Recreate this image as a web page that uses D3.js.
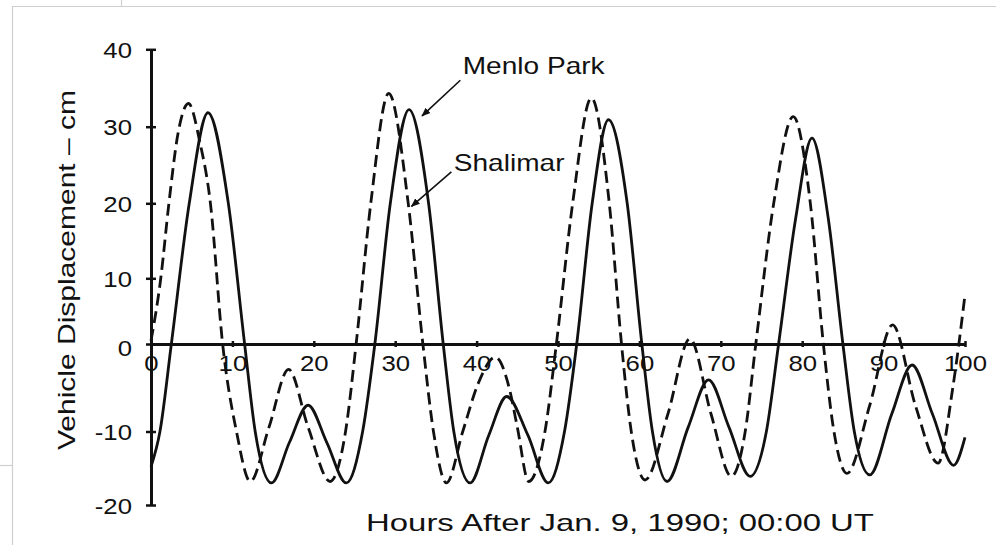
<!DOCTYPE html>
<html><head><meta charset="utf-8">
<script src="https://cdn.jsdelivr.net/npm/d3@7/dist/d3.min.js"></script>
<style>
body{margin:0;background:#fff}
text{font-family:"Liberation Sans",Arial,Helvetica,sans-serif;fill:#111}
</style>
</head><body>
<svg id="chart" width="996" height="545"></svg>
<script>
// ---- data ----
const xTicks = [0, 10, 20, 30, 40, 50, 60, 70, 80, 90, 100];
const yTicks = [-20, -10, 0, 10, 20, 30, 40];
const xTitle = "Hours After Jan. 9, 1990; 00:00 UT";
const yTitle = "Vehicle Displacement  \u2013  cm";

// Menlo Park (solid) : [hour, displacement cm]
const menloPark = [
  [0,-14.8],[1.1,-10],[2.5,0],[4.7,20],[7.0,31.8],[9.5,20],[11.5,0],[12.8,-10],[14.8,-17.0],
  [17.0,-11.5],[19.3,-7.0],[21.6,-11.5],[24.0,-17.0],[26.0,-10],[27.5,0],[29.4,20],[31.7,32.2],
  [34.1,20],[35.9,0],[37.2,-10],[39.2,-17.0],[41.5,-10.5],[43.7,-6.0],[46.3,-10.5],[48.8,-17.0],
  [50.8,-10],[52.3,0],[54.2,20],[56.2,30.9],[58.5,20],[60.3,0],[61.6,-10],[63.4,-16.8],
  [66.0,-9.5],[68.5,-4.1],[71.0,-9.5],[73.6,-16.1],[75.6,-10],[77.1,0],[79.2,18],[81.2,28.5],
  [83.2,18],[85.0,0],[86.4,-10],[88.3,-15.9],[91.0,-8],[93.5,-2.4],[96.0,-8],[98.6,-14.6],[100,-10.8]
];
// Shalimar (dashed)
const shalimar = [
  [0,0.5],[1.2,10],[2.2,20],[3.3,29],[4.6,33.0],[6.0,28],[7.3,20],[8.8,0],[10.5,-10],[12.2,-16.8],
  [14.5,-9.5],[16.9,-2.9],[19.3,-9.5],[22.0,-16.8],[23.9,-10],[25.2,0],[27.0,20],[29.2,34.3],
  [31.6,20],[33.4,0],[34.7,-10],[36.3,-17.0],[38.3,-10],[40.2,-4.5],[42.3,-1.5],[44.0,-5],
  [45.0,-9.5],[46.4,-16.8],[48.4,-10],[49.8,0],[51.8,20],[54.1,33.7],[56.3,20],[57.8,0],
  [59.0,-10],[60.7,-16.6],[63.5,-8],[66.2,0.8],[68.8,-8],[71.3,-16.1],[73.0,-10],[74.3,0],
  [76.5,20],[78.9,31.3],[81.0,20],[82.6,0],[83.9,-10],[85.5,-15.7],[88.3,-7],[91.1,2.9],
  [93.9,-7],[96.7,-14.3],[98.5,-5],[100,7.5]
];

// annotations: label, label position [hour, cm], arrow start, arrow tip
const annoLabels = ["Menlo Park", "Shalimar"];
const annoTextPos = [[38.3, 36.8], [37.2, 24.2]];
const annoFrom = [[38.0, 36.0], [36.9, 24.1]];
const annoTip = [[33.3, 31.4], [32.0, 19.6]];

// ---- chart ----
const svg = d3.select("#chart");
svg.append("rect").attr("width", 996).attr("height", 545).attr("fill", "#fff");

// scan frame remnants
const frame = svg.append("g").attr("stroke", "#cfcfcf").attr("stroke-width", 1.2).attr("fill", "none");
frame.append("line").attr("x1", 12).attr("x2", 996).attr("y1", 6.5).attr("y2", 6.5);
frame.append("line").attr("x1", 12.5).attr("x2", 12.5).attr("y1", 6).attr("y2", 545);
frame.append("line").attr("x1", 0).attr("x2", 12).attr("y1", 465.5).attr("y2", 465.5);
frame.append("line").attr("x1", 121.5).attr("x2", 121.5).attr("y1", 0).attr("y2", 6);

const x = d3.scaleLinear().domain([0, 100]).range([151, 965]);
const y = d3.scaleLinear()
  .domain([-20, -10, 0, 10, 20, 30, 40])
  .range([505, 431.5, 344, 278.3, 203.3, 126.7, 49.3]);

const tickFs = 23, tickStretch = 1.12;

// y axis
const gy = svg.append("g").attr("transform", `translate(${x(0)},0)`)
  .call(d3.axisLeft(y).tickValues(yTicks).tickSize(0).tickSizeOuter(0).tickPadding(19)
    .tickFormat(d => String(d)));
gy.select(".domain").attr("stroke", "#111").attr("stroke-width", 3);
gy.selectAll(".tick line").attr("x1", -5).attr("x2", 5).attr("stroke", "#111").attr("stroke-width", 2.5);
gy.selectAll(".tick text").attr("font-size", tickFs).attr("font-family", null).attr("fill", "#111")
  .attr("x", 0).attr("dy", d => d === 0 ? "0.52em" : "0.36em")
  .attr("transform", `translate(-19,0) scale(${tickStretch},1)`);

// x axis
const gx = svg.append("g").attr("transform", `translate(0,${y(0)})`)
  .call(d3.axisBottom(x).tickValues(xTicks).tickSize(0).tickSizeOuter(0).tickPadding(11));
gx.select(".domain").attr("stroke", "#111").attr("stroke-width", 3);
gx.selectAll(".tick line").attr("y1", -3).attr("y2", 3).attr("stroke", "#111").attr("stroke-width", 2.5);
gx.selectAll(".tick text").attr("font-size", tickFs).attr("font-family", null).attr("fill", "#111")
  .attr("transform", `scale(${tickStretch},1)`);

// curves
const line = d3.line().x(d => x(d[0])).y(d => y(d[1])).curve(d3.curveMonotoneX);
svg.append("path").datum(shalimar).attr("d", line)
  .attr("fill", "none").attr("stroke", "#111").attr("stroke-width", 2.8)
  .attr("stroke-dasharray", "12,6");
svg.append("path").datum(menloPark).attr("d", line)
  .attr("fill", "none").attr("stroke", "#111").attr("stroke-width", 2.8);

// arrows
svg.append("defs").append("marker").attr("id", "ah")
  .attr("viewBox", "0 0 10 10").attr("refX", 9).attr("refY", 5)
  .attr("markerWidth", 9).attr("markerHeight", 9).attr("markerUnits", "userSpaceOnUse")
  .attr("orient", "auto")
  .append("path").attr("d", "M0,1 L10,5 L0,9 Z").attr("fill", "#111");

annoLabels.forEach((lab, i) => {
  svg.append("line")
    .attr("x1", x(annoFrom[i][0])).attr("y1", y(annoFrom[i][1]))
    .attr("x2", x(annoTip[i][0])).attr("y2", y(annoTip[i][1]))
    .attr("stroke", "#111").attr("stroke-width", 1.6).attr("marker-end", "url(#ah)");
  svg.append("text")
    .attr("transform", `translate(${x(annoTextPos[i][0])},${y(annoTextPos[i][1])}) scale(1.22,1)`)
    .attr("font-size", 23).text(lab);
});

// axis titles
svg.append("text").attr("transform", "translate(620,531) scale(1.37,1)").attr("text-anchor", "middle")
  .attr("font-size", 24).text(xTitle);
svg.append("text").attr("transform", "translate(75,270) rotate(-90) scale(1.25,1)").attr("text-anchor", "middle")
  .attr("font-size", 24).text(yTitle);
</script>
</body></html>
